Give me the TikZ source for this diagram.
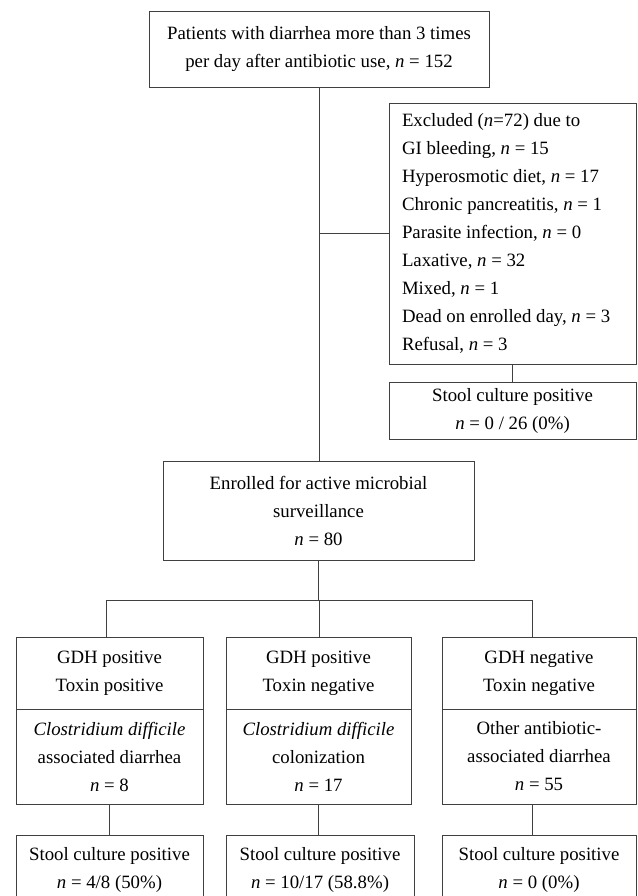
\documentclass[tikz,border=0pt]{standalone}
\usepackage{fontspec}
\setmainfont{Liberation Serif}
\newcommand{\nn}{\textit{n}}

\begin{document}
\begin{tikzpicture}[x=1pt,y=-1pt,
    box/.style={draw=black!75,line width=0.8pt,inner sep=0pt,align=center,
        font=\fontsize{18.8}{28}\selectfont},
    link/.style={draw=black!75,line width=0.8pt}]
    \useasboundingbox (0,0) rectangle (637,896);
    \clip (0,0) rectangle (637,896);
    \node[box,minimum width=340pt,minimum height=76pt] (patients) at (319,49)
        {Patients with diarrhea more than 3 times\\per day after antibiotic use, \nn{} = 152};
    \node[box,align=flush left,text width=221pt,inner xsep=13pt,minimum height=261pt] (excluded) at (512.5,233.5)
        {Excluded (\nn=72) due to\\GI bleeding, \nn{} = 15\\Hyperosmotic diet, \nn{} = 17\\Chronic pancreatitis, \nn{} = 1\\Parasite infection, \nn{} = 0\\Laxative, \nn{} = 32\\Mixed, \nn{} = 1\\Dead on enrolled day, \nn{} = 3\\Refusal, \nn{} = 3};
    \node[box,minimum width=247pt,minimum height=57pt] (stool0) at (512.5,410.5)
        {Stool culture positive\\\nn{} = 0 / 26 (0\%)};
    \node[box,minimum width=311pt,minimum height=99pt] (enrolled) at (318.5,510.5)
        {Enrolled for active microbial\\surveillance\\\nn{} = 80};
    \node[box,minimum width=187pt,minimum height=72pt] (gdhA) at (109.5,673)
        {GDH positive\\Toxin positive};
    \node[box,minimum width=187pt,minimum height=95pt] (cdA) at (109.5,756.5)
        {\textit{Clostridium difficile}\\associated diarrhea\\\nn{} = 8};
    \node[box,minimum width=185pt,minimum height=72pt] (gdhB) at (318.5,673)
        {GDH positive\\Toxin negative};
    \node[box,minimum width=185pt,minimum height=95pt] (cdB) at (318.5,756.5)
        {\textit{Clostridium difficile}\\colonization\\\nn{} = 17};
    \node[box,minimum width=194pt,minimum height=72pt] (gdhC) at (539,673)
        {GDH negative\\Toxin negative};
    \node[box,minimum width=194pt,minimum height=95pt] (cdC) at (539,756.5)
        {Other antibiotic-\\associated diarrhea\\\nn{} = 55};
    \node[box,minimum width=187pt,minimum height=70pt] (stoolA) at (109.5,870)
        {Stool culture positive\\\nn{} = 4/8 (50\%)};
    \node[box,minimum width=188pt,minimum height=70pt] (stoolB) at (320,870)
        {Stool culture positive\\\nn{} = 10/17 (58.8\%)};
    \node[box,minimum width=194pt,minimum height=70pt] (stoolC) at (539,870)
        {Stool culture positive\\\nn{} = 0 (0\%)};
    \coordinate (split) at (319,600);
    \coordinate (left) at (106,600);
    \coordinate (right) at (532,600);
    \draw[link] (patients.south) -- (patients.south |- enrolled.north);
    \draw[link] (patients.south |- excluded.west) -- (excluded.west);
    \draw[link] (excluded) -- (stool0);
    \draw[link] (enrolled.south) -- (enrolled.south |- split);
    \draw[link] (left) -- (right);
    \draw[link] (left) -- (left |- gdhA.north);
    \draw[link] (split) -- (split |- gdhB.north);
    \draw[link] (right) -- (right |- gdhC.north);
    \draw[link] (cdA) -- (stoolA);
    \draw[link] (cdB.south) -- (cdB.south |- stoolB.north);
    \draw[link] (right |- cdC.south) -- (right |- stoolC.north);
\end{tikzpicture}
\end{document}
